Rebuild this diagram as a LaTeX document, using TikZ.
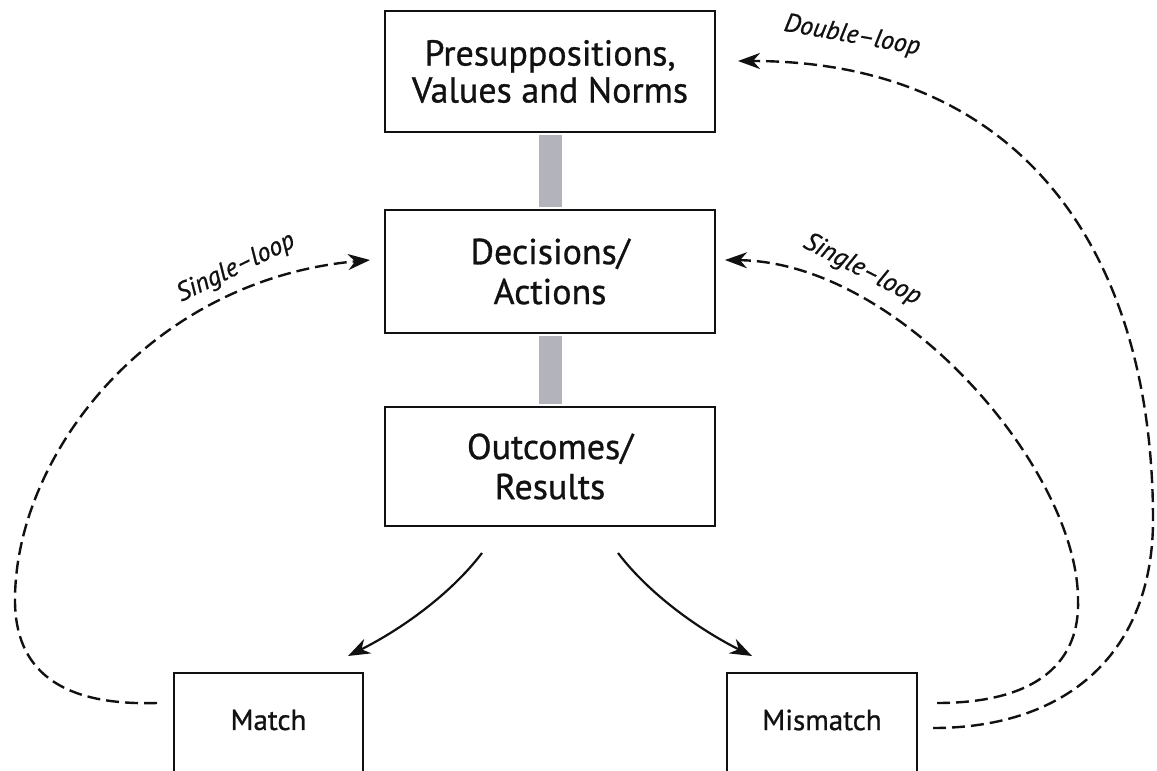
\documentclass[tikz,border=0pt]{standalone}
\usepackage{fontspec}
\setmainfont{PT Sans}
\newfontfamily\heavyfont{PT Sans}[FakeBold=0.8,Ligatures=TeX]
\usetikzlibrary{arrows.meta}
\definecolor{bargray}{HTML}{B3B3BB}
\definecolor{ink}{HTML}{111111}
\begin{document}
\begin{tikzpicture}[x=1pt,y=-1pt,
  box/.style={draw=ink, line width=2.6pt, minimum width=330pt, inner sep=0pt, align=center,
    text=ink, font=\heavyfont\fontsize{36}{40}\selectfont},
  smallbox/.style={draw=ink, line width=2.3pt, inner sep=0pt, anchor=north},
  boxtext/.style={text=ink, inner sep=0pt, font=\heavyfont\fontsize{29}{32}\selectfont},
  bar/.style={draw=bargray, line width=23pt, shorten <=1.3pt, shorten >=1.3pt},
  flow/.style={draw=ink, line width=2.2pt, -{Stealth[length=22pt,width=16pt,inset=7pt]}},
  loop/.style={draw=ink, line width=2.4pt, dash pattern=on 13pt off 6pt,
    -{Stealth[length=22pt,width=16pt,inset=7pt]}},
  looplab/.style={text=ink, inner sep=0pt, font=\heavyfont\fontsize{26}{28}\itshape\selectfont}
]
\useasboundingbox (0,0) rectangle (1157,771);
\clip (0,0) rectangle (1157,771);
\fill[white] (0,0) rectangle (1157,771);

% main boxes
\node[box, minimum height=121pt] (top) at (550,71.5) {Presuppositions,\\[-3pt]Values and Norms};
\node[box, minimum height=123pt] (dec) at (550,271.5) {Decisions/\\Actions};
\node[box, minimum height=119pt] (out) at (550,466.5) {Outcomes/\\Results};

% gray links
\draw[bar] (top.south) -- (dec.north);
\draw[bar] (dec.south) -- (out.north);

% bottom boxes (run off the page)
\node[smallbox, minimum width=189pt, minimum height=160pt] (match) at (268.5,672) {};
\node[boxtext] (matcht) at (268.5,720) {Match};
\node[smallbox, minimum width=190pt, minimum height=160pt] (mism) at (822,672) {};
\node[boxtext] (mismt) at (822,720) {Mismatch};

% connector end points
\coordinate (oL) at (482,553);
\coordinate (mL) at (348,656);
\coordinate (oR) at (618,553);
\coordinate (mR) at (752,656);
\coordinate (sl0) at (157,703);
\coordinate (sl1) at (370,260);
\coordinate (sr0) at (937,703);
\coordinate (sr1) at (725,260);
\coordinate (dl0) at (933,728);
\coordinate (dl1) at (738,61);

% outcome arrows
\draw[flow] (oL) .. controls (450,595) and (400,630) .. (mL);
\draw[flow] (oR) .. controls (650,595) and (700,630) .. (mR);

% single loop (left)
\draw[loop] (sl0) .. controls (60,706) and (15,670) .. (15,600)
  .. controls (15,455) and (150,280) .. (sl1);
% single loop (right)
\draw[loop] (sr0) .. controls (1040,703) and (1080,660) .. (1078,600)
  .. controls (1078,470) and (900,262) .. (sr1);
% double loop
\draw[loop] (dl0) .. controls (1070,728) and (1153,650) .. (1153,520)
  .. controls (1153,250) and (1020,61) .. (dl1);

% labels
\node[looplab, rotate=26] (lsl) at (236,268) {Single–loop};
\node[looplab, rotate=-27] (lsr) at (862,270) {Single–loop};
\node[looplab, rotate=-10] (ldl) at (852,36) {Double–loop};
\end{tikzpicture}
\end{document}
